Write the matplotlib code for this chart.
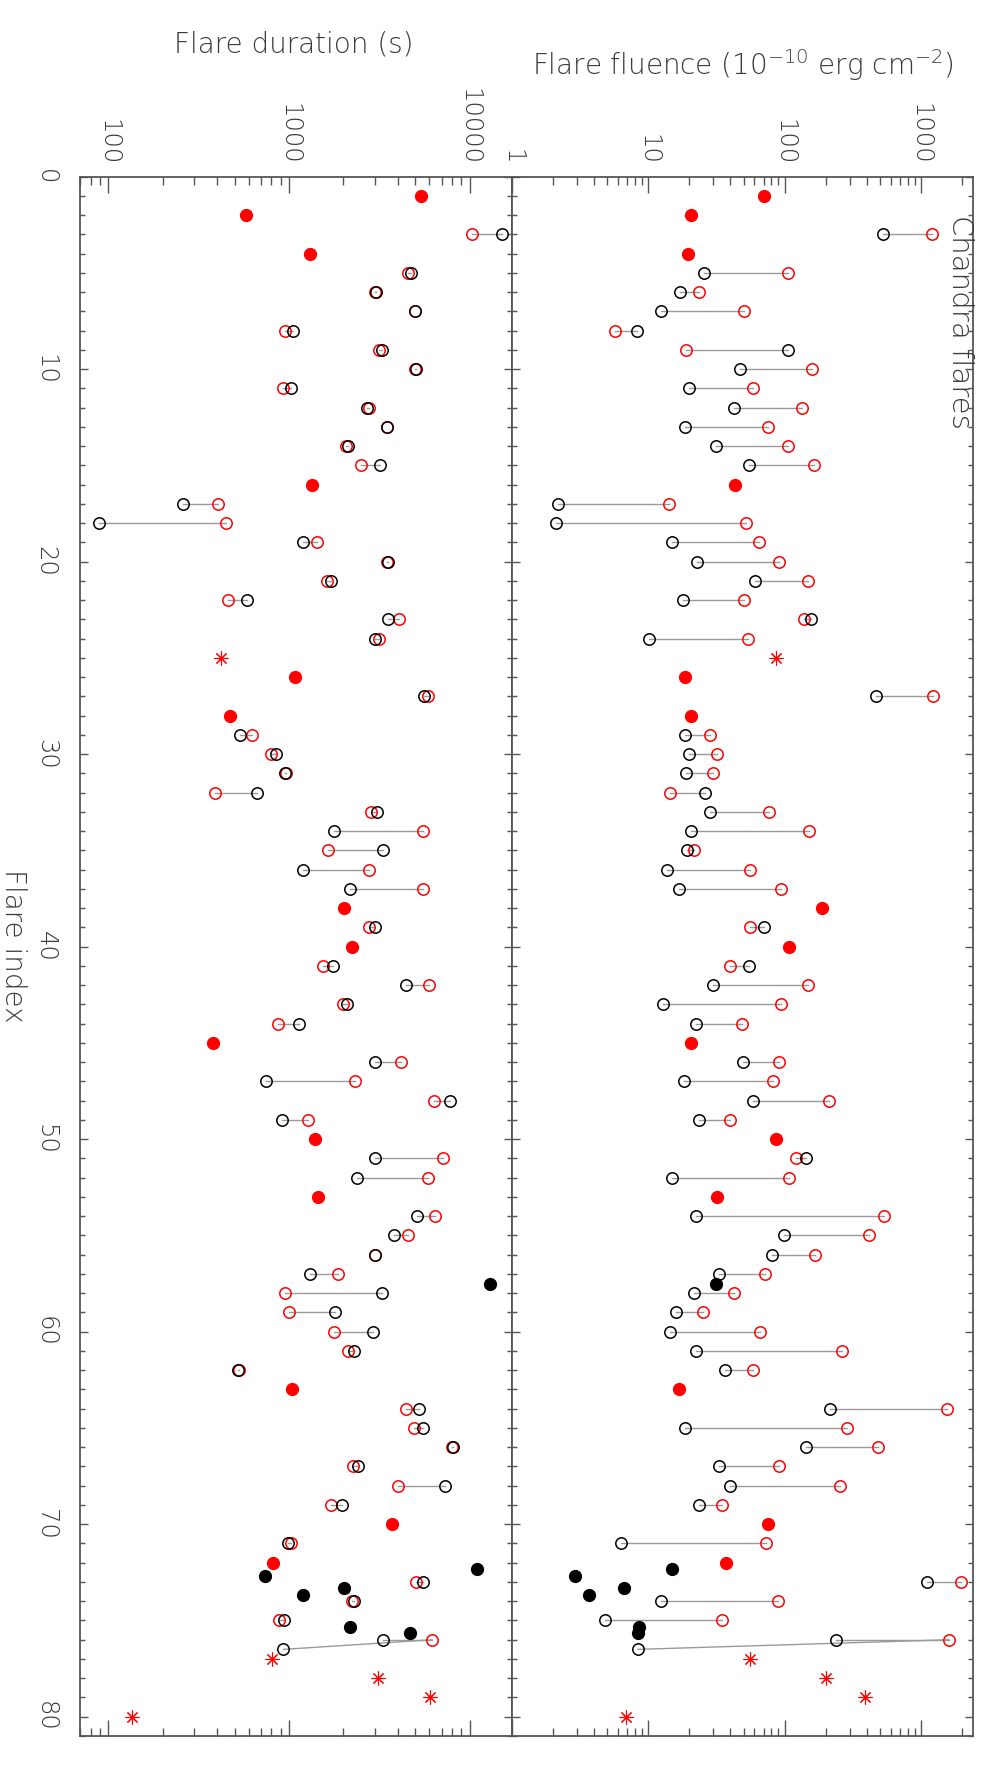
import matplotlib
matplotlib.use("Agg")
import matplotlib.pyplot as plt
from matplotlib import font_manager as fm
from matplotlib.ticker import FixedLocator, LogLocator, NullFormatter, FuncFormatter

# pick a thin sans-serif face if one is installed (reference uses a thin stroke font)
WMAP = {'ultralight': 200, 'extra light': 200, 'light': 300, 'normal': 400, 'regular': 400,
        'book': 400}
def _w(v):
    try:
        return int(v)
    except (TypeError, ValueError):
        return WMAP.get(str(v).lower(), 400)

FAM, FW = 'DejaVu Sans', 'normal'
_found = {}
for f in fm.fontManager.ttflist:
    if f.style == 'normal':
        _found.setdefault(f.name, set()).add(_w(f.weight))
for name in ['DejaVu Sans', 'Lato', 'Open Sans', 'Roboto', 'Noto Sans', 'Inter']:
    ws = sorted(w for w in _found.get(name, set()) if w <= 300)
    if ws:
        FAM, FW = name, ws[-1]
        break

plt.rcParams['font.family'] = [FAM, 'DejaVu Sans']
plt.rcParams['font.weight'] = FW
plt.rcParams['mathtext.fontset'] = 'custom'
plt.rcParams['mathtext.rm'] = FAM
plt.rcParams['mathtext.default'] = 'regular'

# ---------------- data ----------------
# paired flares: index, duration (black, red), fluence (black, red)
pair_idx = [3, 5, 6, 7, 8, 9, 10, 11, 12, 13, 14, 15, 17, 18, 19, 20, 21, 22, 23, 24,
            27, 29, 30, 31, 32, 33, 34, 35, 36, 37, 39, 41, 42, 43, 44, 46, 47, 48, 49,
            51, 52, 54, 55, 56, 57, 58, 59, 60, 61, 62, 64, 65, 66, 67, 68, 69, 71, 73,
            74, 75, 76]
dur_black = [15200, 4730, 3020, 4960, 1050, 3270, 5050, 1030, 2700, 3470, 2118, 3210,
             260, 89, 1190, 3530, 1713, 586, 3550, 2990,
             5580, 537, 853, 953, 667, 3090, 1775, 3300, 1200, 2190, 2990, 1760, 4425,
             2110, 1143, 3013, 750, 7810, 916,
             3005, 2390, 5115, 3795, 2980, 1310, 3275, 1804, 2920, 2295, 521, 5220, 5560,
             8150, 2410, 7330, 1963, 993, 5520,
             2285, 940, 3315]
dur_red = [10300, 4590, 2980, 4960, 953, 3160, 4980, 925, 2780, 3470, 2066, 2500,
           405, 451, 1433, 3500, 1630, 462, 4085, 3150,
           5900, 623, 796, 960, 392, 2850, 5550, 1655, 2780, 5500, 2780, 1540, 5950,
           1980, 867, 4150, 2335, 6370, 1273,
           7140, 5900, 6400, 4560, 2980, 1880, 953, 1002, 1780, 2120, 530, 4450, 4900,
           7980, 2275, 4010, 1713, 1028, 5085,
           2240, 883, 6195]
flu_black = [532, 25.5, 17, 12.3, 8.2, 105, 47, 20, 42.5, 18.4, 31.5, 54.7,
             2.18, 2.08, 15.0, 22.7, 60.6, 17.8, 156, 10.1,
             472, 18.6, 19.8, 18.8, 25.8, 28.3, 20.7, 19.3, 13.6, 16.7, 70, 55, 29.7,
             12.7, 22.3, 49.4, 18.1, 58.2, 23.5,
             144, 14.8, 22.4, 99.5, 81.2, 32.9, 21.7, 15.9, 14.5, 22.3, 36.5, 217, 18.6,
             144, 33.1, 39.9, 23.7, 6.27, 1120,
             12.3, 4.77, 240]
flu_red = [1200, 106, 23.7, 50, 5.7, 18.9, 159, 59, 135, 76, 105, 163,
           14.1, 52.3, 64.4, 91, 148, 50.3, 139, 53.5,
           1220, 28.1, 32.0, 29.9, 14.5, 77.2, 151, 21.6, 56, 94, 56, 40, 149,
           93.5, 48.6, 91.4, 81.6, 212, 39.4,
           122, 107, 538, 415, 167, 71.7, 42.2, 25.1, 66.3, 266, 58.9, 1545, 286,
           481, 91, 254, 34.4, 72.5, 1960,
           89.4, 34.4, 1607]

# extra black measurement joined to the red point of flare 76
extra_idx = [76.5]
extra_link = [76]
extra_dur = [933]
extra_flu = [8.36]

# red filled points
rf_idx = [1, 2, 4, 16, 26, 28, 38, 40, 45, 50, 53, 63, 70, 72]
rf_dur = [5380, 582, 1300, 1345, 1082, 471, 2027, 2240, 379, 1403, 1452, 1042, 3740, 821]
rf_flu = [70, 20.5, 19.5, 43.2, 18.4, 20.6, 188, 108, 20.4, 85.9, 32.0, 16.7, 75, 37.1]

# red asterisks
ast_idx = [25, 77, 78, 79, 80]
ast_dur = [421, 811, 3105, 6040, 136]
ast_flu = [86.4, 55.6, 200, 392, 6.86]

# black filled points
bf_idx = [57.5, 72.33, 72.67, 73.33, 73.67, 75.33, 75.67]
bf_dur = [12900, 10990, 738, 2028, 1203, 2165, 4655]
bf_flu = [31.5, 15.0, 2.89, 6.66, 3.66, 8.58, 8.36]

dur_ticks = [100, 1000, 10000]
flu_ticks = [1, 10, 100, 1000]
idx_ticks = [0, 10, 20, 30, 40, 50, 60, 70, 80]

# ---------------- figure ----------------
W, H = 1003, 1771
fig = plt.figure(figsize=(W / 100, H / 100), dpi=100)
top, bot = 176.7, 1736.0
axL = fig.add_axes([80 / W, 1 - bot / H, 432.3 / W, (bot - top) / H])
axR = fig.add_axes([512.3 / W, 1 - bot / H, 461.0 / W, (bot - top) / H])

TXT = '#3a3a3a'
SP = '#555555'
LINE = '#9a9a9a'


def draw(ax, bvals, rvals, evals, rf, ast, bf):
    for i, b, r in zip(pair_idx, bvals, rvals):
        ax.plot([b, r], [i, i], color=LINE, lw=1.0, zorder=1)
    for i, l, e in zip(extra_idx, extra_link, evals):
        r = rvals[pair_idx.index(l)]
        ax.plot([e, r], [i, l], color=LINE, lw=1.0, zorder=1)
    ax.plot(rvals, pair_idx, 'o', ms=8.2, mfc='none', mec='red', mew=1.1, zorder=3)
    ax.plot(bvals, pair_idx, 'o', ms=8.2, mfc='none', mec='black', mew=1.1, zorder=4)
    ax.plot(evals, extra_idx, 'o', ms=8.2, mfc='none', mec='black', mew=1.1, zorder=4)
    ax.plot(rf, rf_idx, 'o', ms=8.5, color='red', mec='red', zorder=3)
    ax.plot(ast, ast_idx, ls='none', marker=(8, 2, 0), ms=10, mec='red', mew=0.8, zorder=3)
    ax.plot(bf, bf_idx, 'o', ms=8.5, color='black', zorder=4)


draw(axL, dur_black, dur_red, extra_dur, rf_dur, ast_dur, bf_dur)
draw(axR, flu_black, flu_red, extra_flu, rf_flu, ast_flu, bf_flu)

intfmt = FuncFormatter(lambda v, p: '%d' % round(v))
for ax, xl, xt in [(axL, (69.7, 17250), dur_ticks), (axR, (1, 2430), flu_ticks)]:
    ax.set_xscale('log')
    ax.set_xlim(*xl)
    ax.set_ylim(81, 0)
    ax.xaxis.set_major_locator(FixedLocator(xt))
    ax.xaxis.set_minor_locator(LogLocator(base=10, subs=range(2, 10), numticks=20))
    ax.xaxis.set_major_formatter(intfmt)
    ax.xaxis.set_minor_formatter(NullFormatter())
    ax.xaxis.tick_top()
    ax.yaxis.set_major_locator(FixedLocator(idx_ticks))
    ax.yaxis.set_minor_locator(FixedLocator(range(0, 82)))
    ax.tick_params(axis='x', which='major', direction='in', length=11.5, width=1.0,
                   color=SP, top=True, bottom=True, labeltop=True, labelbottom=False,
                   labelsize=17.5, labelcolor=TXT, pad=8.5)
    ax.tick_params(axis='x', which='minor', direction='in', length=5.5, width=1.0,
                   color=SP, top=True, bottom=True)
    ax.tick_params(axis='y', which='major', direction='in', length=6, width=1.0,
                   color=SP, left=True, right=True, labelsize=17.5, labelcolor=TXT, pad=16)
    ax.tick_params(axis='y', which='minor', direction='in', length=3.6, width=1.0,
                   color=SP, left=True, right=True)
    for s in ax.spines.values():
        s.set_color(SP)
        s.set_linewidth(1.3)
    for lab in ax.get_xticklabels():
        lab.set_rotation(-90)

for lab in axL.get_yticklabels():
    lab.set_rotation(-90)
    lab.set_va('center')
axR.tick_params(axis='y', labelleft=False)

fig.text(294 / W, 1 - 53 / H, 'Flare duration (s)', ha='center', va='baseline',
         fontsize=20, color=TXT)
fig.text(743 / W, 1 - 75 / H, r'Flare fluence (10$^{-10}$ erg cm$^{-2}$)', ha='center',
         va='baseline', fontsize=20, color=TXT)
fig.text(13 / W, 1 - 946 / H, 'Flare index', rotation=-90, ha='center', va='center',
         fontsize=20, color=TXT)
fig.text(960 / W, 1 - 215 / H, 'Chandra flares', rotation=-90, ha='center', va='top',
         fontsize=21, color=TXT)

fig.savefig('out.png', dpi=100)
